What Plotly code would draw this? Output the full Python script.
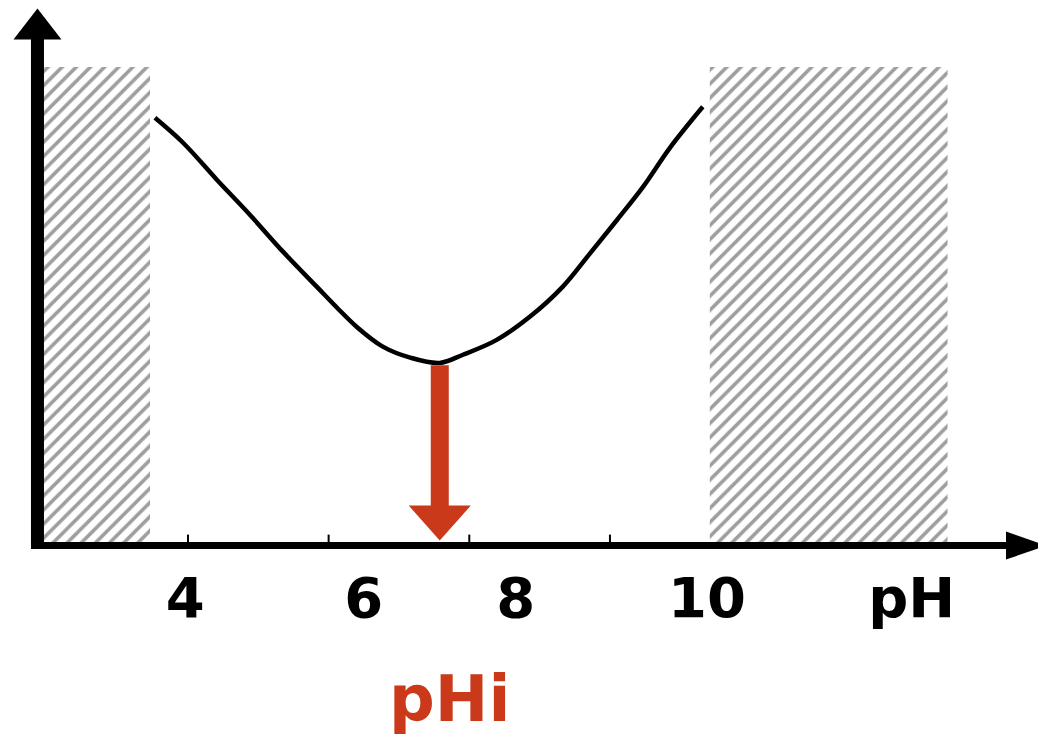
import plotly.graph_objects as go

# protein solubility vs pH (schematic)
ph = [3.53, 3.93, 4.41, 4.88, 5.35, 5.83, 6.12, 6.40, 6.77, 7.16, 7.58,
      7.91, 8.39, 8.86, 9.33, 9.72, 10.10, 10.47, 10.85, 11.32]
solubility = [8.92, 8.40, 7.63, 6.90, 6.13, 5.40, 4.96, 4.56, 4.15, 3.92, 3.81,
              3.98, 4.29, 4.77, 5.40, 6.10, 6.79, 7.48, 8.29, 9.15]

# hatched pH zones (start, end) and their height
zones = [(1.94, 3.46), (11.42, 14.80)]
zone_top = 9.98

pHi = 7.58

tick_vals = [4, 6, 8, 10]
label_pos = [3.96, 6.50, 8.66, 11.38, 14.29]
label_text = ["4", "6", "8", "10", "pH"]

x_origin = 1.86
x_range = [1.441, 16.20]
y_range = [-0.3, 11.21]
y_tip = 11.2

RED = "#C9391A"
FONT = "DejaVu Sans"

fig = go.Figure()

for x0, x1 in zones:
    fig.add_trace(go.Scatter(
        x=[x0, x1, x1, x0, x0],
        y=[0, 0, zone_top, zone_top, 0],
        fill="toself",
        mode="none",
        fillcolor="white",
        fillpattern=dict(shape="/", fgcolor="#3e3e3e", bgcolor="white",
                         size=10, solidity=0.36),
        hoverinfo="skip",
        showlegend=False,
    ))

fig.add_trace(go.Scatter(
    x=ph, y=solubility,
    mode="lines",
    line=dict(color="black", width=4.5, shape="spline", smoothing=1.0),
    showlegend=False,
))

shapes = [
    # y axis + arrow head
    dict(type="line", x0=x_origin, x1=x_origin, y0=-0.07, y1=10.9,
         line=dict(color="black", width=13)),
    dict(type="path", xref="x", yref="y", xsizemode="pixel", ysizemode="pixel",
         xanchor=x_origin, yanchor=y_tip, path="M -24,-31 L 0,0 L 24,-31 Z",
         fillcolor="black", line=dict(width=0)),
    # x axis + arrow head
    dict(type="line", x0=x_origin - 0.09, x1=x_range[1] - 0.4, y0=0, y1=0,
         line=dict(color="black", width=7)),
    dict(type="path", xref="x", yref="y", xsizemode="pixel", ysizemode="pixel",
         xanchor=x_range[1], yanchor=0, path="M -40,-14 L 0,0 L -40,14 Z",
         fillcolor="black", line=dict(width=0)),
    # pHi arrow
    dict(type="line", x0=pHi, x1=pHi, y0=min(solubility) - 0.05, y1=0.75,
         line=dict(color=RED, width=18)),
    dict(type="path", xref="x", yref="y", xsizemode="pixel", ysizemode="pixel",
         xanchor=pHi, yanchor=0, path="M -31,40 L 0,5 L 31,40 Z",
         fillcolor=RED, line=dict(width=0)),
]
# small tick marks above the axis
for t in tick_vals:
    shapes.append(dict(type="line", xref="x", yref="y", ysizemode="pixel",
                       yanchor=0, x0=t, x1=t, y0=0, y1=11,
                       line=dict(color="black", width=2)))

fig.update_layout(
    width=1038, height=733,
    margin=dict(l=0, r=0, t=0, b=181),
    paper_bgcolor="white", plot_bgcolor="white",
    shapes=shapes,
    showlegend=False,
    xaxis=dict(
        range=x_range, showgrid=False, zeroline=False, showline=False,
        tickvals=label_pos, ticktext=label_text, ticks="",
        tickfont=dict(family=FONT, size=56, color="black", weight="bold"),
        ticklabelstandoff=0,
    ),
    yaxis=dict(range=y_range, visible=False, showgrid=False, zeroline=False),
    annotations=[dict(
        x=pHi, y=0, xref="x", yref="y", xshift=10, yshift=-153,
        text="<b>pHi</b>", showarrow=False, yanchor="middle",
        font=dict(family=FONT, size=64, color=RED),
    )],
)

fig.write_html("out.html")
